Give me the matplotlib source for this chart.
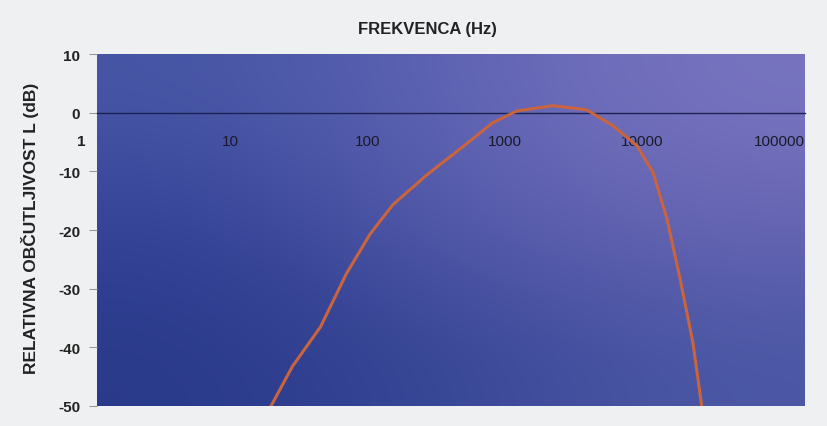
import numpy as np
import matplotlib.pyplot as plt
from matplotlib.ticker import FixedLocator, NullLocator
from matplotlib.transforms import ScaledTranslation

# frequency (Hz) and relative sensitivity (dB)
freq = [17, 24, 38, 58, 85, 123, 214, 366, 626, 925, 1660, 2880,
        4400, 6500, 8450, 10600, 13100, 16200, 18700]
level = [-50, -43.3, -36.5, -27.4, -20.7, -15.7, -10.6, -6.2, -1.7, 0.3,
         1.2, 0.5, -2.2, -5.6, -10.1, -18.0, -28.1, -39.2, -50]

x_ticks = [1, 10, 100, 1000, 10000, 100000]
x_labels = ['1', '10', '100', '1000', '10000', '100000']
y_ticks = [10, 0, -10, -20, -30, -40, -50]

plt.rcParams['font.family'] = ['Liberation Sans', 'DejaVu Sans']
plt.rcParams['axes.unicode_minus'] = False

fig = plt.figure(figsize=(8.28, 4.27), dpi=100, facecolor='#eef0f1')
ax = fig.add_axes([0.117, 0.047, 0.855, 0.824])

# scanned blue background gradient
bg = np.array([
    [[70, 85, 165], [95, 100, 180], [120, 116, 192]],
    [[50, 65, 150], [85, 90, 170], [102, 100, 178]],
    [[42, 58, 138], [55, 70, 150], [75, 88, 165]],
]) / 255.0
ax.imshow(bg, extent=[0, 1, 0, 1], transform=ax.transAxes, aspect='auto',
          interpolation='bicubic', zorder=0)

ax.plot(freq, level, color='#c9643e', lw=2.2, zorder=3)

ax.set_xscale('log')
ax.set_xlim(1, 100000)
ax.set_ylim(-50, 10)

# x axis crosses at 0 dB, labels just below it
ax.spines['bottom'].set_position(('data', 0))
ax.spines['bottom'].set_color('#1c2350')
ax.spines['bottom'].set_linewidth(1.0)
for s in ['top', 'right', 'left']:
    ax.spines[s].set_visible(False)
ax.xaxis.set_major_locator(FixedLocator(x_ticks))
ax.xaxis.set_minor_locator(NullLocator())
ax.set_xticklabels(x_labels)
ax.tick_params(axis='x', length=0, pad=15, labelsize=11, labelcolor='#1a1a2a')
for t in ax.get_xticklabels():
    t.set_horizontalalignment('right')
# the "1" label sits left of the plot edge, next to the y labels
first = ax.get_xticklabels()[0]
first.set_transform(first.get_transform()
                    + ScaledTranslation(-8 / 72, 0, fig.dpi_scale_trans))
first.set_fontweight('bold')
first.set_color('#222222')

ax.set_yticks(y_ticks)
ax.tick_params(axis='y', length=6, color='#999999', pad=6, labelsize=11,
               labelcolor='#222222')
for t in ax.get_yticklabels():
    t.set_fontweight('bold')

fig.text(0.516, 0.93, 'FREKVENCA (Hz)', ha='center', va='center',
         fontsize=12, fontweight='bold', color='#222222')
fig.text(0.036, 0.466, 'RELATIVNA OBČUTLJIVOST L (dB)', ha='center',
         va='center', rotation=90, fontsize=12.5, fontweight='bold',
         color='#222222')

fig.savefig('out.png', dpi=100, facecolor=fig.get_facecolor())
